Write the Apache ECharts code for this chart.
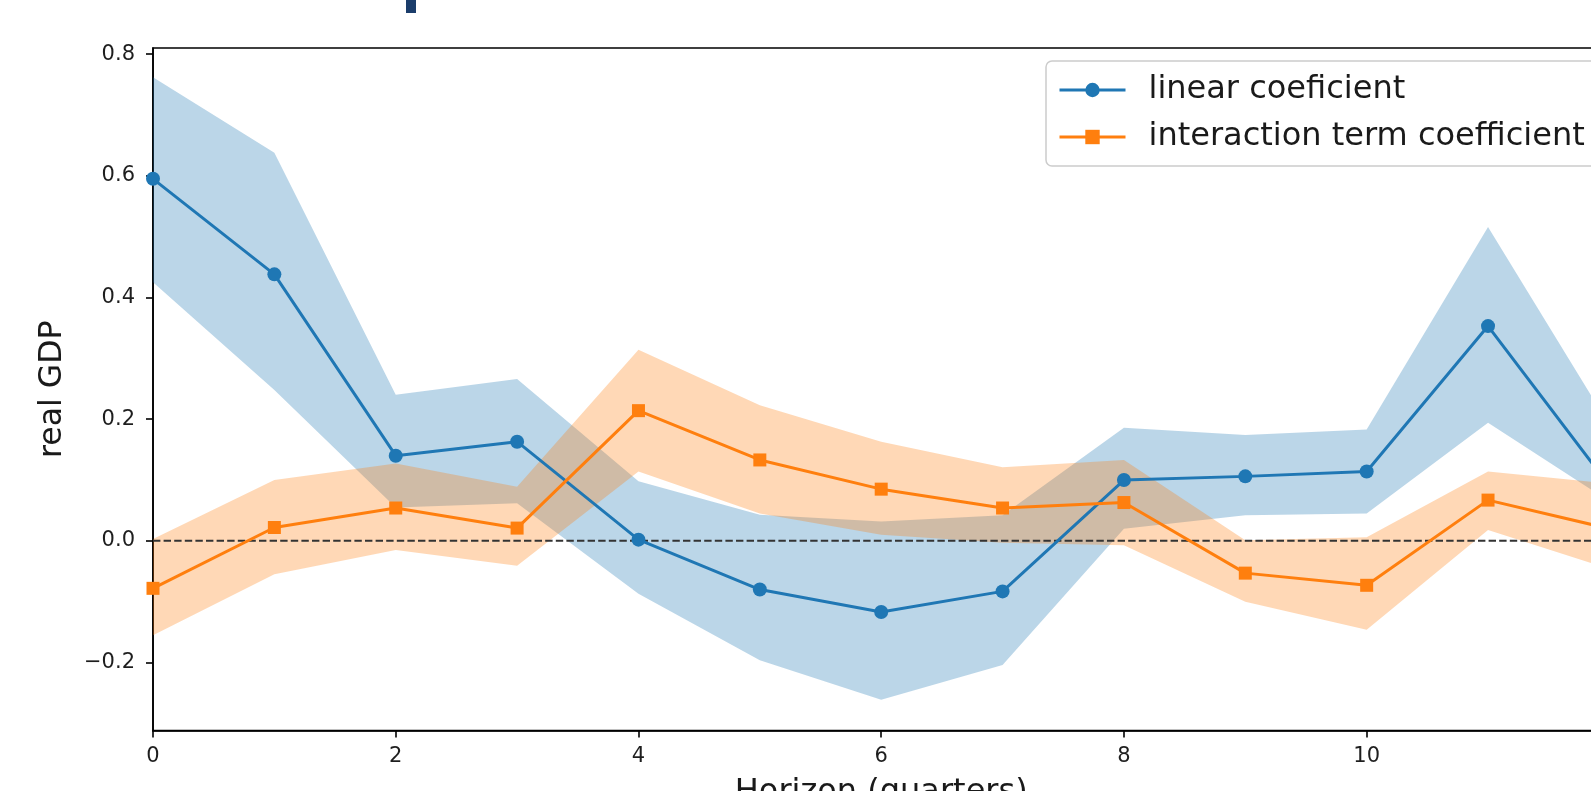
<!DOCTYPE html>
<html><head><meta charset="utf-8">
<script src="https://cdn.jsdelivr.net/npm/echarts@6/dist/echarts.min.js"></script>
<style>html,body{margin:0;padding:0;background:#fff;overflow:hidden}#c{width:1591px;height:791px}</style>
</head><body><div id="c"></div>
<script>
// ---- data ----
const horizons = [0,1,2,3,4,5,6,7,8,9,10,11,12];
const linearCoef = [0.595, 0.438, 0.140, 0.163, 0.002, -0.080, -0.117, -0.083, 0.100, 0.106, 0.114, 0.353, 0.090];
const linearUpper = [0.762, 0.638, 0.240, 0.266, 0.098, 0.043, 0.032, 0.042, 0.186, 0.174, 0.183, 0.516, 0.190];
const linearLower = [0.425, 0.248, 0.055, 0.062, -0.087, -0.196, -0.261, -0.204, 0.020, 0.042, 0.045, 0.194, 0.065];
const interCoef = [-0.078, 0.022, 0.054, 0.021, 0.214, 0.133, 0.085, 0.054, 0.063, -0.053, -0.073, 0.067, 0.020];
const interUpper = [0.003, 0.100, 0.127, 0.089, 0.314, 0.223, 0.163, 0.121, 0.133, 0.001, 0.006, 0.114, 0.094];
const interLower = [-0.155, -0.055, -0.015, -0.041, 0.114, 0.045, 0.010, -0.003, -0.007, -0.100, -0.146, 0.018, -0.046];
const zeroLine = [0, 0];
const xTicks = [0,2,4,6,8,10,12];
const yTicks = [-0.2, 0.0, 0.2, 0.4, 0.6, 0.8];
const seriesNames = ['linear coeficient', 'interaction term coefficient'];

const FONT = 'DejaVu Sans';
const chart = echarts.init(document.getElementById('c'), null, {renderer: 'canvas'});

function band(name, upper, lower, fill, z) {
  return {
    type: 'custom', name: name, z: z, silent: true, clip: true,
    data: [[horizons[0], upper[0]]],
    renderItem: function (params, api) {
      const pts = [];
      for (let i = 0; i < horizons.length; i++) pts.push(api.coord([horizons[i], upper[i]]));
      for (let i = horizons.length - 1; i >= 0; i--) pts.push(api.coord([horizons[i], lower[i]]));
      return {type: 'polygon', shape: {points: pts}, style: {fill: fill}};
    }
  };
}
function fmtNum(v) {
  const s = Math.abs(v).toFixed(1);
  return v < 0 ? '\u2212' + s : s;
}
const xFirst = horizons[0], xLast = horizons[horizons.length - 1];

chart.setOption({
  animation: false,
  backgroundColor: '#fff',
  grid: {left: 153, top: 48, right: -18.4, bottom: 60.4, containLabel: false, outerBoundsMode: 'none',
         show: true, borderColor: '#000', borderWidth: 1.6, backgroundColor: 'transparent'},
  xAxis: {
    type: 'value', min: 0, max: 12,
    name: 'Horizon (quarters)', nameLocation: 'middle', nameGap: 46,
    nameTextStyle: {fontFamily: FONT, fontSize: 32, color: '#1a1a1a', verticalAlign: 'top'},
    axisLine: {show: true, onZero: false, lineStyle: {color: '#000', width: 1.6}},
    axisTick: {show: true, length: 7, lineStyle: {color: '#000', width: 1.6}, customValues: xTicks},
    axisLabel: {fontFamily: FONT, fontSize: 21, color: '#1e1e1e', margin: 15, customValues: xTicks, formatter: v => String(v)},
    splitLine: {show: false}
  },
  yAxis: {
    type: 'value', min: -0.3118, max: 0.81,
    name: 'real GDP', nameLocation: 'middle', nameGap: 84, nameRotate: 90,
    nameTextStyle: {fontFamily: FONT, fontSize: 31.5, color: '#1a1a1a'},
    axisLine: {show: true, onZero: false, lineStyle: {color: '#000', width: 1.6}},
    axisTick: {show: true, length: 7, lineStyle: {color: '#000', width: 1.6}, customValues: yTicks},
    axisLabel: {fontFamily: FONT, fontSize: 21, color: '#1e1e1e', margin: 18, customValues: yTicks, formatter: fmtNum},
    splitLine: {show: false}
  },
  legend: {
    data: seriesNames,
    orient: 'vertical', left: 1046, top: 61,
    padding: [12, 22, 12, 12], itemGap: 13,
    itemWidth: 66, itemHeight: 18,
    lineStyle: {width: 3},
    backgroundColor: '#fff', borderColor: '#cccccc', borderWidth: 1.5, borderRadius: 6,
    textStyle: {fontFamily: FONT, fontSize: 32, color: '#1a1a1a', lineHeight: 34, padding: [0, 0, 0, 18]}
  },
  graphic: [{type: 'rect', shape: {x: 406, y: 0, width: 10, height: 13}, style: {fill: '#1b3d6b'}}],
  series: [
    band('linear band', linearUpper, linearLower, 'rgba(31,119,180,0.3)', 1),
    band('interaction band', interUpper, interLower, 'rgba(255,127,14,0.3)', 1),
    {type: 'line', name: 'zero', z: 2, silent: true, symbol: 'none',
     data: [[xFirst, zeroLine[0]], [xLast, zeroLine[1]]],
     lineStyle: {color: '#333', width: 2, type: [7.4, 3.2]}},
    {type: 'line', name: seriesNames[0], z: 3, data: horizons.map((h, i) => [h, linearCoef[i]]),
     symbol: 'circle', symbolSize: 14, showAllSymbol: true,
     lineStyle: {color: '#1f77b4', width: 3}, itemStyle: {color: '#1f77b4'}},
    {type: 'line', name: seriesNames[1], z: 3, data: horizons.map((h, i) => [h, interCoef[i]]),
     symbol: 'rect', symbolSize: 13, showAllSymbol: true,
     lineStyle: {color: '#ff7f0e', width: 3}, itemStyle: {color: '#ff7f0e'}}
  ]
});
</script></body></html>
